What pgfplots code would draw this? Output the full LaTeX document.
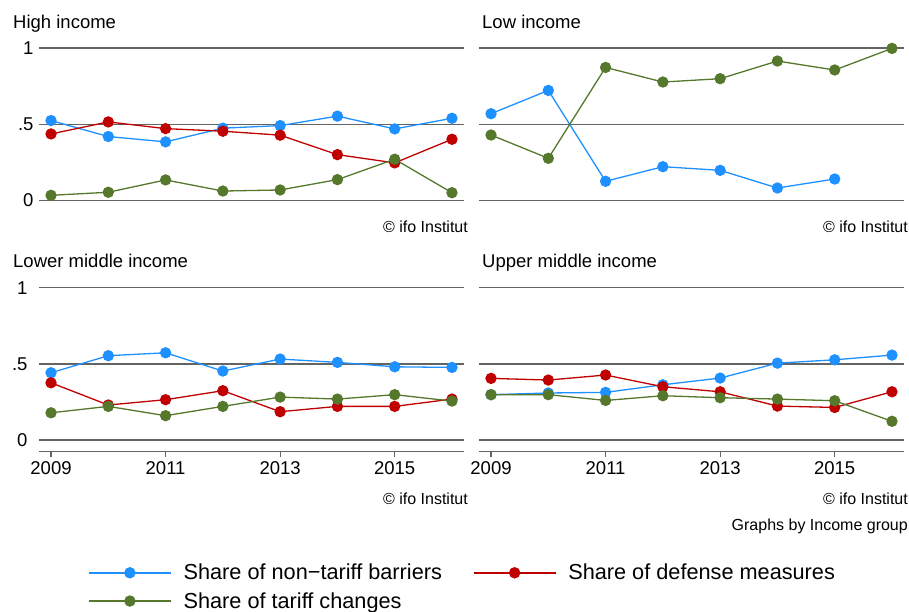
\documentclass[border=0pt]{standalone}
\usepackage{fontspec}
\setmainfont{Liberation Sans}
\usepackage{pgfplots}
\pgfplotsset{compat=1.18}

\definecolor{ntb}{RGB}{30,144,255}
\definecolor{dfm}{RGB}{192,0,0}
\definecolor{tar}{RGB}{85,120,45}
\definecolor{gridc}{RGB}{100,100,100}

\newcommand{\mainfont}{\fontsize{18.5}{22}\selectfont}
\newcommand{\notefont}{\fontsize{16}{19}\selectfont}

\pgfplotsset{
  panel/.style={
    scale only axis, width=425pt, height=163.5pt,
    anchor=south west,
    xmin=2008.79, xmax=2016.21,
    ymin=-0.074, ymax=1,
    clip=false,
    axis x line*=bottom, axis y line*=left,
    y axis line style={draw=none},
    ytick={0,0.5,1}, ytick style={draw=none},
    ymajorgrids, grid style={gridc, line width=1.2pt},
    /pgf/number format/assume math mode=true,
    /pgf/number format/1000 sep={},
    ticklabel style={font=\mainfont},
    every axis plot/.append style={line width=1.3pt, mark=*, mark size=5pt},
  },
  bottompanel/.style={
    xtick={2009,2011,2013,2015},
    x axis line style={gridc, line width=1.2pt, -},
    xtick style={gridc, line width=1.2pt},
    tick align=outside, major tick length=6pt,
    xticklabel style={yshift=-1pt},
  },
  toppanel/.style={
    xtick=\empty,
    x axis line style={draw=none},
  },
  leftpanel/.style={yticklabels={0,{.5},1}, yticklabel style={xshift=-2pt}},
  rightpanel/.style={yticklabels={}},
}

\begin{document}
\begin{tikzpicture}
\useasboundingbox (0,0) rectangle (909pt,612pt);

% High income
\begin{axis}[panel, toppanel, leftpanel, at={(39pt,400.4pt)}]
\addplot[ntb] coordinates {(2009,0.524) (2010,0.419) (2011,0.384) (2012,0.474) (2013,0.491) (2014,0.553) (2015,0.469) (2016,0.539)};
\addplot[dfm] coordinates {(2009,0.436) (2010,0.515) (2011,0.471) (2012,0.454) (2013,0.428) (2014,0.300) (2015,0.246) (2016,0.401)};
\addplot[tar] coordinates {(2009,0.033) (2010,0.053) (2011,0.134) (2012,0.061) (2013,0.068) (2014,0.136) (2015,0.270) (2016,0.050)};
\end{axis}

% Low income
\begin{axis}[panel, toppanel, rightpanel, at={(479pt,400.4pt)}]
\addplot[ntb] coordinates {(2009,0.569) (2010,0.722) (2011,0.125) (2012,0.221) (2013,0.197) (2014,0.081) (2015,0.140)};
\addplot[tar] coordinates {(2009,0.429) (2010,0.276) (2011,0.873) (2012,0.777) (2013,0.799) (2014,0.915) (2015,0.856) (2016,0.998)};
\end{axis}

% Lower middle income
\begin{axis}[panel, bottompanel, leftpanel, at={(39pt,160.7pt)}]
\addplot[ntb] coordinates {(2009,0.442) (2010,0.554) (2011,0.573) (2012,0.453) (2013,0.532) (2014,0.510) (2015,0.481) (2016,0.477)};
\addplot[dfm] coordinates {(2009,0.376) (2010,0.230) (2011,0.265) (2012,0.324) (2013,0.186) (2014,0.221) (2015,0.221) (2016,0.269)};
\addplot[tar] coordinates {(2009,0.179) (2010,0.221) (2011,0.160) (2012,0.221) (2013,0.282) (2014,0.269) (2015,0.298) (2016,0.256)};
\end{axis}

% Upper middle income
\begin{axis}[panel, bottompanel, rightpanel, at={(479pt,160.7pt)},
  legend columns=2,
  legend style={at={(-0.92,-0.677)}, anchor=north west, draw=none, fill=none,
    inner sep=0pt, font=\fontsize{21.7}{26}\selectfont,
    /tikz/every odd column/.append style={column sep=10pt},
    /tikz/every even column/.append style={column sep=29pt},
    row sep=7pt},
  legend cell align=left,
  legend image code/.code={\draw[mark repeat=2, mark phase=2, #1, line width=1.4pt, mark size=5pt] plot coordinates {(0pt,0pt) (41pt,0pt) (82pt,0pt)};},
]
\addplot[ntb] coordinates {(2009,0.298) (2010,0.309) (2011,0.313) (2012,0.363) (2013,0.407) (2014,0.505) (2015,0.527) (2016,0.558)};
\addplot[dfm] coordinates {(2009,0.405) (2010,0.394) (2011,0.427) (2012,0.350) (2013,0.317) (2014,0.223) (2015,0.214) (2016,0.317)};
\addplot[tar] coordinates {(2009,0.298) (2010,0.298) (2011,0.260) (2012,0.291) (2013,0.278) (2014,0.269) (2015,0.258) (2016,0.123)};
\legend{Share of non−tariff barriers, Share of defense measures, Share of tariff changes}
\end{axis}

% titles and notes
\node[anchor=base west, inner sep=0pt, font=\mainfont] at (13pt,583.7pt) {High income};
\node[anchor=base west, inner sep=0pt, font=\mainfont] at (482pt,583.7pt) {Low income};
\node[anchor=base west, inner sep=0pt, font=\mainfont] at (13pt,344.7pt) {Lower middle income};
\node[anchor=base west, inner sep=0pt, font=\mainfont] at (482pt,344.7pt) {Upper middle income};
\node[anchor=base east, inner sep=0pt, font=\notefont] at (468pt,379pt) {© ifo Institut};
\node[anchor=base east, inner sep=0pt, font=\notefont] at (908pt,379pt) {© ifo Institut};
\node[anchor=base east, inner sep=0pt, font=\notefont] at (468pt,107pt) {© ifo Institut};
\node[anchor=base east, inner sep=0pt, font=\notefont] at (908pt,107pt) {© ifo Institut};
\node[anchor=base east, inner sep=0pt, font=\notefont] at (908pt,81pt) {Graphs by Income group};
\end{tikzpicture}
\end{document}
